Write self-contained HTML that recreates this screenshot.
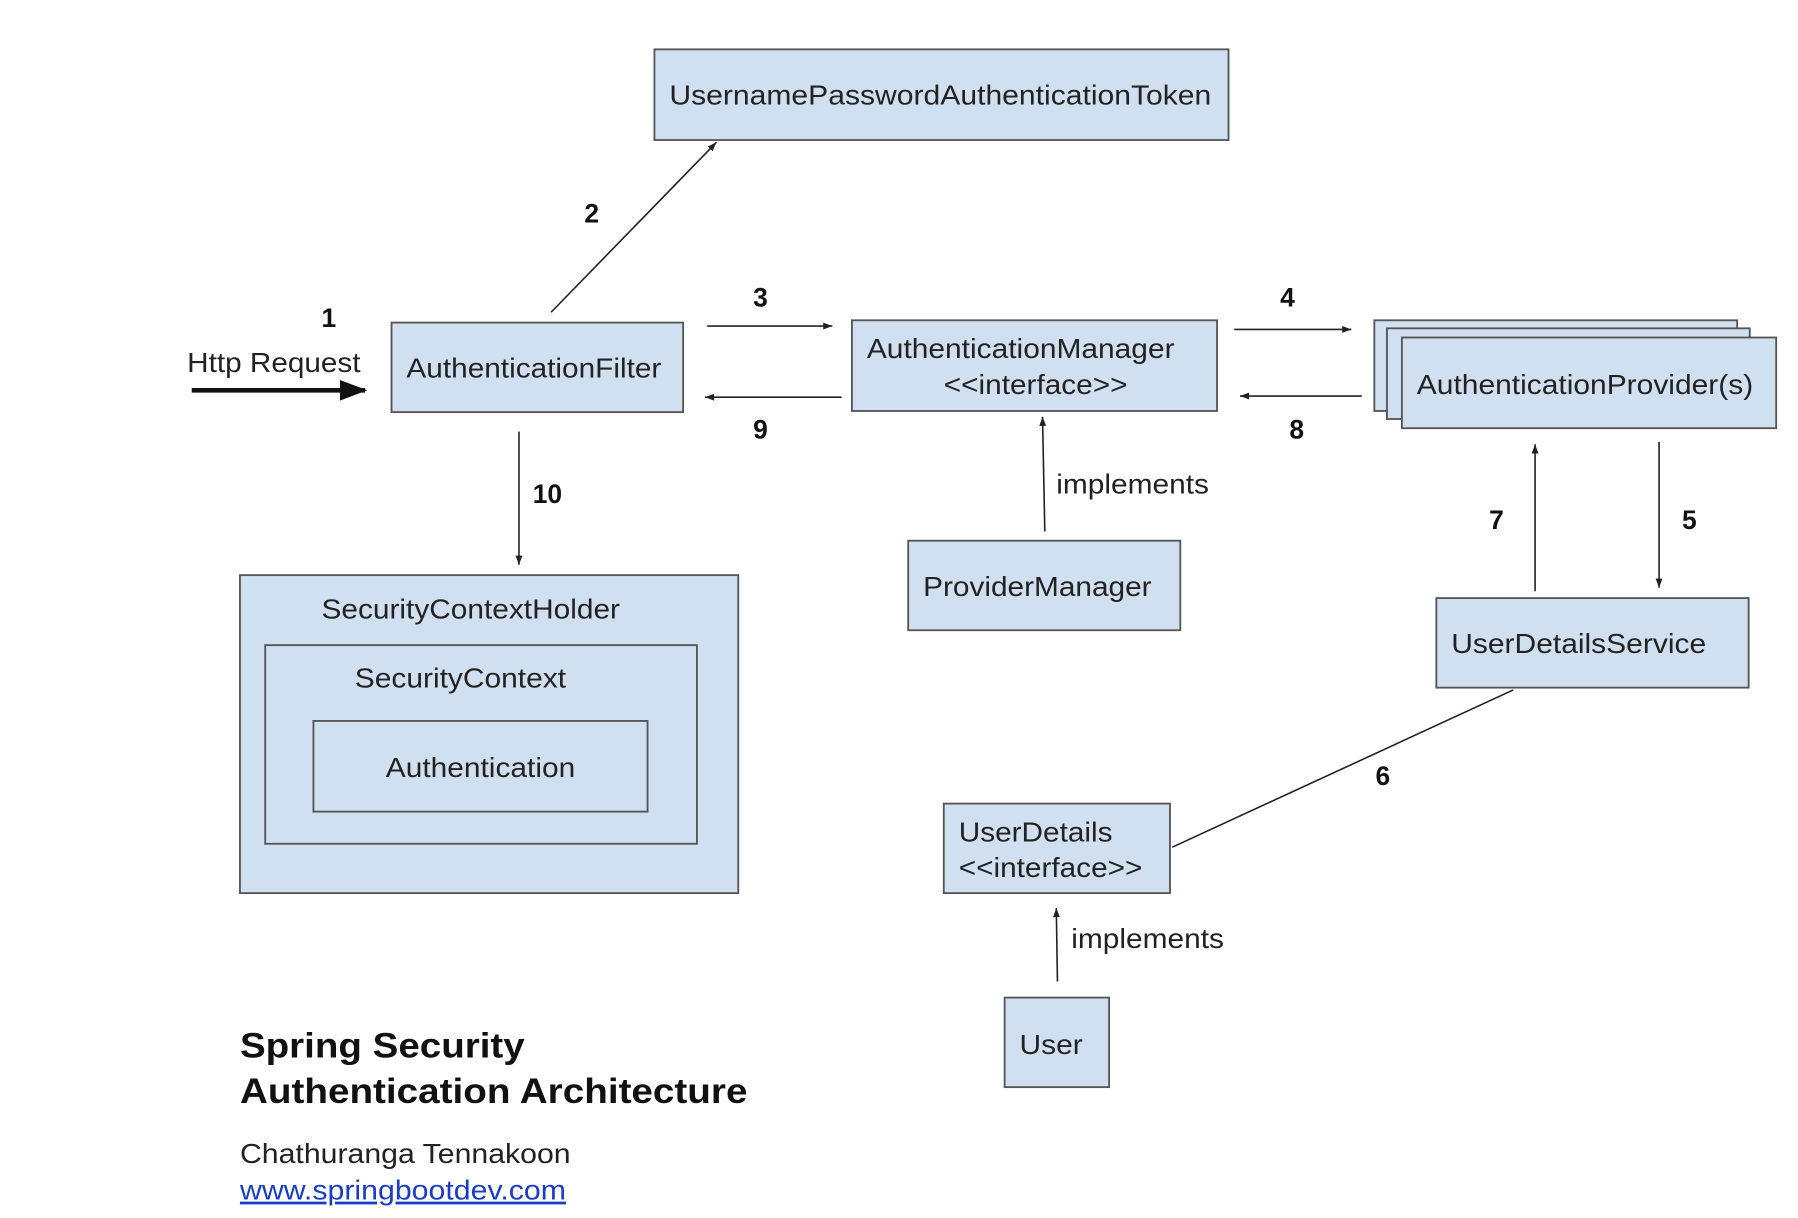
<!DOCTYPE html>
<html><head><meta charset="utf-8"><style>html,body{margin:0;padding:0;background:#fff}svg{display:block}</style></head>
<body>
<svg width="1798" height="1218" viewBox="0 0 1566 1061" preserveAspectRatio="none" xmlns="http://www.w3.org/2000/svg" font-family="Liberation Sans, Arial, sans-serif">
<defs>
<marker id="a" markerWidth="8" markerHeight="6" refX="8" refY="3" orient="auto" markerUnits="userSpaceOnUse"><path d="M0,0 L8,3 L0,6z" fill="#222"/></marker>
<marker id="b" markerWidth="24" markerHeight="18" refX="22" refY="9" orient="auto" markerUnits="userSpaceOnUse"><path d="M0,0 L24,9 L0,18z" fill="#111"/></marker>
</defs>
<g fill="#d0e0f0" stroke="#555" stroke-width="1.6">
<rect x="570" y="43" width="500" height="79"/>
<rect x="341" y="281" width="254" height="78"/>
<rect x="742" y="279" width="318" height="79"/>
<rect x="1197" y="279" width="316" height="79"/>
<rect x="1208" y="286" width="316" height="79"/>
<rect x="1221" y="294" width="326" height="79"/>
<rect x="791" y="471" width="237" height="78"/>
<rect x="209" y="501" width="434" height="277"/>
<rect x="231" y="562" width="376" height="173"/>
<rect x="273" y="628" width="291" height="79"/>
<rect x="1251" y="521" width="272" height="78"/>
<rect x="822" y="700" width="197" height="78"/>
<rect x="875" y="869" width="91" height="78"/>
</g>
<g stroke="#222" stroke-width="1.4" fill="none">
<line x1="167" y1="340" x2="318" y2="340" stroke="#111" stroke-width="4" marker-end="url(#b)"/>
<line x1="480" y1="272" x2="624" y2="124" marker-end="url(#a)"/>
<line x1="616" y1="284" x2="725" y2="284" marker-end="url(#a)"/>
<line x1="733" y1="346" x2="614" y2="346" marker-end="url(#a)"/>
<line x1="1075" y1="287" x2="1177" y2="287" marker-end="url(#a)"/>
<line x1="1186" y1="345" x2="1080" y2="345" marker-end="url(#a)"/>
<line x1="910" y1="463" x2="908" y2="363" marker-end="url(#a)"/>
<line x1="452" y1="376" x2="452" y2="492" marker-end="url(#a)"/>
<line x1="1337" y1="515" x2="1337" y2="387" marker-end="url(#a)"/>
<line x1="1445" y1="385" x2="1445" y2="512" marker-end="url(#a)"/>
<line x1="1318" y1="601" x2="1021" y2="738"/>
<line x1="921" y1="855" x2="920" y2="791" marker-end="url(#a)"/>
</g>
<g font-size="24" fill="#222">
<text x="583" y="91" textLength="472" lengthAdjust="spacingAndGlyphs">UsernamePasswordAuthenticationToken</text>
<text x="354" y="329" textLength="222" lengthAdjust="spacingAndGlyphs">AuthenticationFilter</text>
<text x="755" y="312" textLength="268" lengthAdjust="spacingAndGlyphs">AuthenticationManager</text>
<text x="822" y="343" textLength="160" lengthAdjust="spacingAndGlyphs">&lt;&lt;interface&gt;&gt;</text>
<text x="1234" y="343" textLength="293" lengthAdjust="spacingAndGlyphs">AuthenticationProvider(s)</text>
<text x="804" y="519" textLength="199" lengthAdjust="spacingAndGlyphs">ProviderManager</text>
<text x="280" y="539" textLength="260" lengthAdjust="spacingAndGlyphs">SecurityContextHolder</text>
<text x="309" y="599" textLength="184" lengthAdjust="spacingAndGlyphs">SecurityContext</text>
<text x="336" y="677" textLength="165" lengthAdjust="spacingAndGlyphs">Authentication</text>
<text x="1264" y="569" textLength="222" lengthAdjust="spacingAndGlyphs">UserDetailsService</text>
<text x="835" y="733" textLength="134" lengthAdjust="spacingAndGlyphs">UserDetails</text>
<text x="835" y="764" textLength="160" lengthAdjust="spacingAndGlyphs">&lt;&lt;interface&gt;&gt;</text>
<text x="888" y="918" textLength="55" lengthAdjust="spacingAndGlyphs">User</text>
<text x="163" y="324" textLength="151" lengthAdjust="spacingAndGlyphs">Http Request</text>
<text x="920" y="430" textLength="133" lengthAdjust="spacingAndGlyphs">implements</text>
<text x="933" y="826" textLength="133" lengthAdjust="spacingAndGlyphs">implements</text>
<text x="209" y="1013" textLength="288" lengthAdjust="spacingAndGlyphs">Chathuranga Tennakoon</text>
<text x="209" y="1045" textLength="284" lengthAdjust="spacingAndGlyphs" fill="#1a3cc8" text-decoration="underline">www.springbootdev.com</text>
</g>
<g font-size="23" font-weight="bold" fill="#111">
<text x="280" y="285">1</text>
<text x="509" y="194">2</text>
<text x="656" y="267">3</text>
<text x="656" y="382">9</text>
<text x="1115" y="267">4</text>
<text x="1123" y="382">8</text>
<text x="464" y="438">10</text>
<text x="1297" y="461">7</text>
<text x="1465" y="461">5</text>
<text x="1198" y="684">6</text>
</g>
<g font-size="31" font-weight="bold" fill="#111">
<text x="209" y="921" textLength="248" lengthAdjust="spacingAndGlyphs">Spring Security</text>
<text x="209" y="961" textLength="442" lengthAdjust="spacingAndGlyphs">Authentication Architecture</text>
</g>
</svg>
</body></html>
